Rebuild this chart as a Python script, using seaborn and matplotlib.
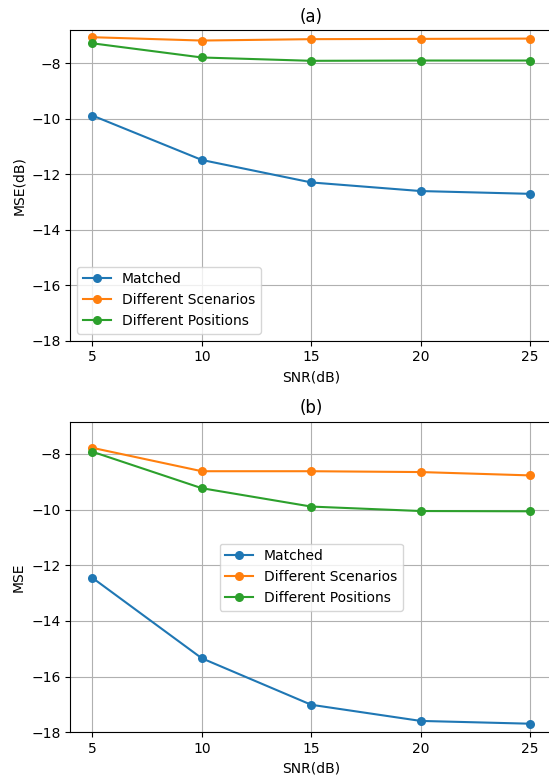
#!/usr/bin/env python
# -*- coding: utf-8 -*-

""" MSE vs SNR for matched / mismatched training, two panels. """

import matplotlib as mpl
mpl.use('Agg')

import matplotlib.pyplot as plt
import pandas as pd
import seaborn as sns

snr = [5, 10, 15, 20, 25]
series_names = ['Matched', 'Different Scenarios', 'Different Positions']

# panel (a): MSE in dB
a_matched = [-9.89, -11.49, -12.30, -12.61, -12.71]
a_scenarios = [-7.07, -7.19, -7.14, -7.13, -7.12]
a_positions = [-7.29, -7.80, -7.92, -7.91, -7.91]

# panel (b): MSE
b_matched = [-12.45, -15.34, -17.01, -17.59, -17.69]
b_scenarios = [-7.78, -8.62, -8.62, -8.65, -8.77]
b_positions = [-7.92, -9.23, -9.89, -10.05, -10.06]


def to_frame(*cols):
    rows = []
    for name, vals in zip(series_names, cols):
        for x, y in zip(snr, vals):
            rows.append({'snr': x, 'mse': y, 'case': name})
    return pd.DataFrame(rows)


def main():
    plt.rcParams['font.family'] = ['DejaVu Sans']
    plt.rcParams['font.size'] = 10

    palette = sns.color_palette('tab10', 3)
    fig = plt.figure(figsize=(5.49, 7.79), dpi=100)
    ax_a = fig.add_axes([0.1284, 0.5626, 1.0055 - 0.1284, 0.9615 - 0.5626])
    ax_b = fig.add_axes([0.1284, 0.0599, 1.0055 - 0.1284, 0.4587 - 0.0599])

    panels = [
        (ax_a, to_frame(a_matched, a_scenarios, a_positions), '(a)', 'MSE(dB)', -6.81, 'lower left'),
        (ax_b, to_frame(b_matched, b_scenarios, b_positions), '(b)', 'MSE', -6.84, 'center'),
    ]

    for ax, df, title, ylabel, ytop, loc in panels:
        sns.lineplot(data=df, x='snr', y='mse', hue='case', hue_order=series_names,
                     palette=palette, marker='o', markersize=6.5, markeredgewidth=0,
                     linewidth=1.5, ax=ax)
        ax.set_xlim(4, 26)
        ax.set_ylim(-18, ytop)
        ax.set_xticks(snr)
        ax.set_yticks([-18, -16, -14, -12, -10, -8])
        ax.grid(True, color='#b0b0b0', linewidth=0.8)
        ax.set_axisbelow(True)
        ax.set_xlabel('SNR(dB)')
        ax.set_ylabel(ylabel)
        ax.set_title(title, fontsize=12)
        sns.move_legend(ax, loc, title=None, fontsize=10)

    plt.savefig('out.png', dpi=100)


if __name__ == '__main__':
    main()
